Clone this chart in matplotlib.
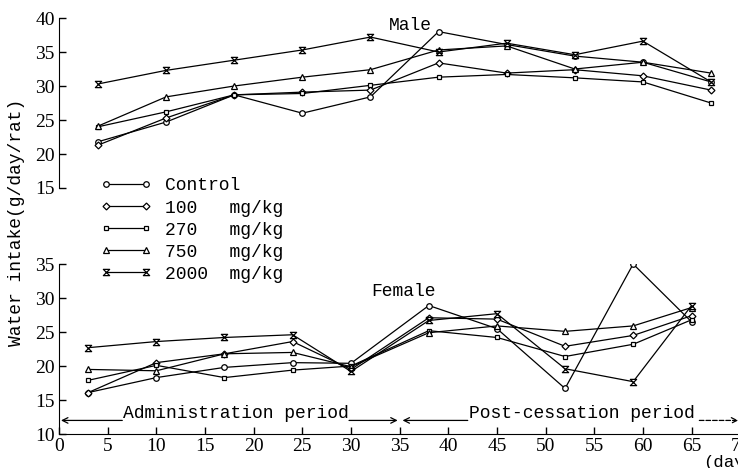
import matplotlib
matplotlib.use("Agg")
import matplotlib.pyplot as plt
from matplotlib.path import Path

# days of measurement
male_days = [4, 11, 18, 25, 32, 39, 46, 53, 60, 67]
female_days = [3, 10, 17, 24, 30, 38, 45, 52, 59, 65]

# water intake (g/day/rat), male
male_control = [21.8, 24.7, 28.7, 26.0, 28.4, 38.0, 36.1, 34.4, 33.5, 30.6]
male_100 = [21.3, 25.3, 28.7, 29.1, 29.4, 33.4, 31.9, 32.4, 31.5, 29.4]
male_270 = [24.0, 26.2, 28.7, 28.9, 30.1, 31.3, 31.7, 31.2, 30.6, 27.5]
male_750 = [24.1, 28.4, 30.0, 31.3, 32.4, 35.3, 35.9, 32.5, 33.5, 31.9]
male_2000 = [30.3, 32.3, 33.8, 35.3, 37.2, 35.0, 36.3, 34.6, 36.6, 30.6]

# water intake (g/day/rat), female
female_control = [16.1, 18.3, 19.8, 20.5, 20.4, 28.9, 25.5, 16.7, 35.0, 26.5]
female_100 = [16.1, 20.5, 21.8, 23.6, 19.5, 27.1, 26.9, 22.9, 24.5, 27.4]
female_270 = [17.9, 20.1, 18.3, 19.4, 20.0, 25.2, 24.2, 21.4, 23.2, 26.8]
female_750 = [19.5, 19.3, 21.8, 22.0, 19.9, 24.9, 25.9, 25.1, 25.9, 28.6]
female_2000 = [22.7, 23.6, 24.2, 24.6, 19.2, 26.7, 27.7, 19.6, 17.7, 28.9]

labels = ["Control", "100   mg/kg", "270   mg/kg", "750   mg/kg", "2000  mg/kg"]

hourglass = Path([(-1, 1), (1, 1), (-1, -1), (1, -1), (-1, 1)],
                 [Path.MOVETO, Path.LINETO, Path.LINETO, Path.LINETO, Path.CLOSEPOLY])
markers = ["o", "D", "s", "^", hourglass]
sizes = [4, 3.5, 3.5, 4, 4.5]

mono = "Liberation Mono"
tickfont = "Liberation Serif"

fig = plt.figure(figsize=(7.38, 4.68), dpi=100)
ax1 = fig.add_axes([0.080, 0.5983, 0.923, 0.3632])
ax2 = fig.add_axes([0.080, 0.0726, 0.923, 0.3632])
# keep the legend of the upper panel on top of the lower one
ax1.set_zorder(2)
ax1.patch.set_visible(False)

male = [male_control, male_100, male_270, male_750, male_2000]
female = [female_control, female_100, female_270, female_750, female_2000]

handles = []
for i in range(5):
    h, = ax1.plot(male_days, male[i], color="black", lw=0.9, marker=markers[i],
                  ms=sizes[i], mfc="white", mec="black", mew=0.9, label=labels[i])
    handles.append(h)
    ax2.plot(female_days, female[i], color="black", lw=0.9, marker=markers[i],
             ms=sizes[i], mfc="white", mec="black", mew=0.9)

for ax in (ax1, ax2):
    ax.set_xlim(0, 70)
    ax.spines["top"].set_visible(False)
    ax.spines["right"].set_visible(False)
    ax.tick_params(direction="in", length=5, width=1, colors="black", pad=3)

ax1.set_ylim(15, 40)
ax1.set_yticks([15, 20, 25, 30, 35, 40])
ax1.spines["bottom"].set_visible(False)
ax1.set_xticks([])
for lab in ax1.get_yticklabels():
    lab.set_fontfamily(tickfont)
    lab.set_fontsize(14)

ax2.set_ylim(10, 35)
ax2.set_yticks([10, 15, 20, 25, 30, 35])
ax2.set_xticks(range(0, 75, 5))
for lab in ax2.get_yticklabels() + ax2.get_xticklabels():
    lab.set_fontfamily(tickfont)
    lab.set_fontsize(14)

ax1.text(36.1, 38.9, "Male", fontsize=13, family=mono, ha="center", va="center")
ax2.text(35.4, 30.9, "Female", fontsize=13, family=mono, ha="center", va="center")

fig.text(0.022, 0.525, "Water intake(g/day/rat)", rotation=90, fontsize=13,
         family=mono, ha="center", va="center")

ax1.legend(handles=handles, loc="upper left", bbox_to_anchor=(0.048, 0.115),
           frameon=False, numpoints=2, handlelength=2.8, handletextpad=0.75,
           labelspacing=0.28, borderpad=0,
           prop={"family": mono, "size": 13})

# period arrows
arrow = dict(arrowstyle="->", color="black", lw=0.9, shrinkA=0, shrinkB=0)
ax2.annotate("", xy=(0.2, 12), xytext=(6.5, 12), arrowprops=arrow)
ax2.text(6.6, 12.3, "Administration period", fontsize=13, family=mono,
         ha="left", va="baseline")
ax2.annotate("", xy=(34.8, 12), xytext=(29.8, 12), arrowprops=arrow)
ax2.annotate("", xy=(35.3, 12), xytext=(42.0, 12), arrowprops=arrow)
ax2.text(42.1, 12.3, "Post-cessation period", fontsize=13, family=mono,
         ha="left", va="baseline")
ax2.annotate("", xy=(69.8, 12), xytext=(65.8, 12),
             arrowprops=dict(arrow, linestyle="--"))

ax2.annotate("(days)", xy=(66.2, -0.17), xycoords=("data", "axes fraction"),
             fontsize=12.5, family=mono, ha="left", va="center", annotation_clip=False)

fig.savefig("out.png", dpi=100)
